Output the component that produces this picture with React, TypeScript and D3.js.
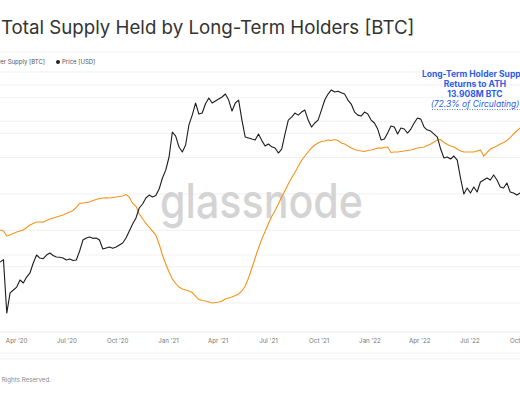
import React, { useEffect, useRef } from 'react';
import * as d3 from 'd3';

// sampled every 6 days from 2020-03-02
const startDate = '2020-03-02';
const stepDays = 6;

const priceUsd = [
  9240, 9500, 5170, 6500, 6720, 6950, 7530, 7280, 7790, 8160,
  9140, 10010, 9670, 9600, 10010, 10240, 9950, 9780, 9750, 9670,
  9460, 9560, 9400, 9460, 10480, 11870, 12150, 12290, 12100, 12150,
  11870, 10720, 10840, 10960, 10800, 10960, 11220, 11470, 12150, 13150,
  14250, 15250, 17090, 17890, 19150, 19800, 19370, 19700, 21210, 24040,
  26300, 30540, 40590, 38770, 34210, 32320, 35000, 44000, 49200, 56450,
  49800, 50370, 56000, 59750, 56450, 57730, 59070, 60440, 62540, 58400,
  51530, 56450, 58400, 46500, 38330, 37900, 37470, 37100, 39660, 36800,
  34610, 35400, 34300, 33830, 31950, 33440, 39660, 46500, 48130, 50370,
  49200, 50930, 52100, 46500, 42950, 44960, 46500, 52100, 58400, 62540,
  65500, 63970, 64500, 63500, 62540, 58400, 55800, 50930, 49200, 48680,
  50930, 49800, 46500, 44960, 41980, 37100, 37470, 40120, 43450, 42950,
  39660, 42470, 42000, 40120, 41980, 44960, 47590, 47000, 42950, 41500,
  41040, 39660, 38330, 33440, 30180, 30540, 29850, 30880, 29500, 24040,
  20040, 21460, 20270, 21700, 20500, 22970, 23500, 24040, 23500, 24900,
  23500, 21700, 21460, 22710, 20500, 20270, 19800, 20270,
];

// long-term holder supply, million BTC
const lthSupplyM = [
  12.504, 12.49, 12.422, 12.435, 12.456, 12.477, 12.49, 12.504, 12.539, 12.573,
  12.594, 12.614, 12.614, 12.612, 12.635, 12.655, 12.669, 12.683, 12.697, 12.71,
  12.731, 12.752, 12.772, 12.814, 12.869, 12.876, 12.882, 12.889, 12.91, 12.924,
  12.937, 12.944, 12.946, 12.945, 12.951, 12.958, 12.965, 12.972, 12.992, 12.958,
  12.869, 12.834, 12.724, 12.662, 12.594, 12.545, 12.49, 12.435, 12.312, 12.16,
  12.036, 11.926, 11.83, 11.768, 11.72, 11.693, 11.679, 11.665, 11.644, 11.596,
  11.548, 11.534, 11.528, 11.514, 11.5, 11.507, 11.514, 11.528, 11.555, 11.569,
  11.583, 11.603, 11.624, 11.665, 11.734, 11.844, 11.981, 12.119, 12.257, 12.38,
  12.483, 12.594, 12.69, 12.772, 12.862, 12.958, 13.047, 13.137, 13.219, 13.295,
  13.378, 13.46, 13.522, 13.577, 13.632, 13.673, 13.701, 13.721, 13.728, 13.742,
  13.735, 13.749, 13.735, 13.701, 13.687, 13.66, 13.632, 13.611, 13.598, 13.591,
  13.584, 13.598, 13.605, 13.618, 13.632, 13.63, 13.639, 13.646, 13.57, 13.577,
  13.578, 13.584, 13.591, 13.598, 13.605, 13.618, 13.632, 13.639, 13.646, 13.666,
  13.687, 13.715, 13.742, 13.749, 13.708, 13.68, 13.66, 13.646, 13.618, 13.591,
  13.577, 13.577, 13.577, 13.577, 13.591, 13.605, 13.522, 13.57, 13.618, 13.639,
  13.66, 13.687, 13.708, 13.735, 13.776, 13.825, 13.866, 13.908,
];

const xTicks = [
  '2020-04-01', '2020-07-01', '2020-10-01', '2021-01-01', '2021-04-01', '2021-07-01',
  '2021-10-01', '2022-01-01', '2022-04-01', '2022-07-01', '2022-10-01',
];
const supplyGrid = [11.5, 12, 12.5, 13, 13.5, 14, 14.5];
const priceGrid = [10000, 40000, 60000];

const annotation = ['Long-Term Holder Supply', 'Returns to ATH', '13.908M BTC', '(72.3% of Circulating)'];

const parse = d3.timeParse('%Y-%m-%d');
const ORANGE = '#f7931a';
const BLUE = '#2b5ce6';
const FONT = 'Inter, "Noto Sans", sans-serif';

export default function App() {
  const svgRef = useRef<SVGSVGElement>(null);

  useEffect(() => {
    if (!svgRef.current) return;
    const W = 520, H = 400;
    const svg = d3.select(svgRef.current);
    svg.selectAll('*').remove();

    const t0 = parse(startDate) as Date;
    const rows = priceUsd.map((p, i) => ({
      date: d3.timeDay.offset(t0, i * stepDays),
      price: p,
      supply: lthSupplyM[i],
    }));

    const x = d3.scaleTime()
      .domain([parse('2020-04-01') as Date, parse('2022-01-01') as Date])
      .range([16.7, 370]);
    const yPrice = d3.scaleLog().domain([5000, 64000]).range([316, 92]);
    const ySupply = d3.scaleLinear().domain([11.5, 14]).range([303, 121.25]);

    svg.append('rect').attr('width', W).attr('height', H).attr('fill', '#fff');

    // title
    svg.append('text')
      .attr('x', 1).attr('y', 34)
      .attr('font-family', FONT).attr('font-size', 18.7)
      .attr('fill', '#333')
      .text('Total Supply Held by Long-Term Holders [BTC]');

    // legend band
    [52, 72].forEach(y => {
      svg.append('line').attr('x1', 0).attr('x2', W).attr('y1', y).attr('y2', y)
        .attr('stroke', '#efefef').attr('stroke-width', 1);
    });
    const legend = svg.append('g').attr('font-family', FONT).attr('font-size', 6).attr('fill', '#555');
    legend.append('text').attr('x', 45).attr('y', 64).attr('text-anchor', 'end')
      .text('Long-Term Holder Supply [BTC]');
    legend.append('circle').attr('cx', -60).attr('cy', 62).attr('r', 2).attr('fill', ORANGE);
    legend.append('circle').attr('cx', 58).attr('cy', 62).attr('r', 2).attr('fill', '#222');
    legend.append('text').attr('x', 62).attr('y', 64).text('Price [USD]');

    // grid
    const grid = svg.append('g');
    supplyGrid.forEach(v => {
      grid.append('line').attr('x1', 0).attr('x2', W)
        .attr('y1', ySupply(v)).attr('y2', ySupply(v))
        .attr('stroke', '#f0f0f0');
    });
    priceGrid.forEach(v => {
      grid.append('line').attr('x1', 0).attr('x2', W)
        .attr('y1', yPrice(v)).attr('y2', yPrice(v))
        .attr('stroke', '#f3f3f3');
    });

    // watermark
    svg.append('text')
      .attr('x', 160).attr('y', 218)
      .attr('font-family', FONT).attr('font-size', 48).attr('font-weight', 500)
      .attr('fill', '#d4d4d4')
      .attr('textLength', 203).attr('lengthAdjust', 'spacingAndGlyphs')
      .text('glassnode');

    // lines
    const supplyLine = d3.line<typeof rows[0]>()
      .x(d => x(d.date)).y(d => ySupply(d.supply));
    const priceLine = d3.line<typeof rows[0]>()
      .x(d => x(d.date)).y(d => yPrice(d.price));

    svg.append('path').datum(rows)
      .attr('fill', 'none').attr('stroke', ORANGE).attr('stroke-width', 1.1)
      .attr('d', supplyLine);
    svg.append('path').datum(rows)
      .attr('fill', 'none').attr('stroke', '#1c1c1c').attr('stroke-width', 1.1)
      .attr('stroke-linejoin', 'round')
      .attr('d', priceLine);

    // x axis
    svg.append('line').attr('x1', 0).attr('x2', W).attr('y1', 332).attr('y2', 332)
      .attr('stroke', '#ececec');
    const fmt = d3.timeFormat("%b '%y");
    svg.append('g')
      .attr('font-family', FONT).attr('font-size', 6.2).attr('fill', '#777')
      .attr('text-anchor', 'middle')
      .selectAll('text')
      .data(xTicks.map(s => parse(s) as Date))
      .join('text')
      .attr('x', d => x(d)).attr('y', 343)
      .text(d => fmt(d));

    // footer
    [353, 359].forEach(y => {
      svg.append('line').attr('x1', 0).attr('x2', W).attr('y1', y).attr('y2', y)
        .attr('stroke', '#f1f1f1');
    });
    svg.append('text')
      .attr('x', 51).attr('y', 382).attr('text-anchor', 'end')
      .attr('font-family', FONT).attr('font-size', 6.2).attr('fill', '#8a8a8a')
      .text('© 2022 Glassnode. All Rights Reserved.');

    // annotation
    const ann = svg.append('g').attr('font-family', FONT).attr('fill', BLUE)
      .attr('text-anchor', 'middle').attr('font-size', 8.5);
    annotation.forEach((s, i) => {
      ann.append('text')
        .attr('x', 475).attr('y', 77 + i * 10)
        .attr('font-weight', i < 3 ? 700 : 400)
        .attr('font-style', i === 3 ? 'italic' : 'normal')
        .text(s);
    });
    ann.append('line').attr('x1', 432).attr('x2', W).attr('y1', 109.5).attr('y2', 109.5)
      .attr('stroke', BLUE).attr('stroke-width', 0.8).attr('stroke-dasharray', '1,1.5');
  }, []);

  return (
    <svg ref={svgRef} width={520} height={400}
      style={{ position: 'absolute', left: 0, top: 0, display: 'block' }} />
  );
}
